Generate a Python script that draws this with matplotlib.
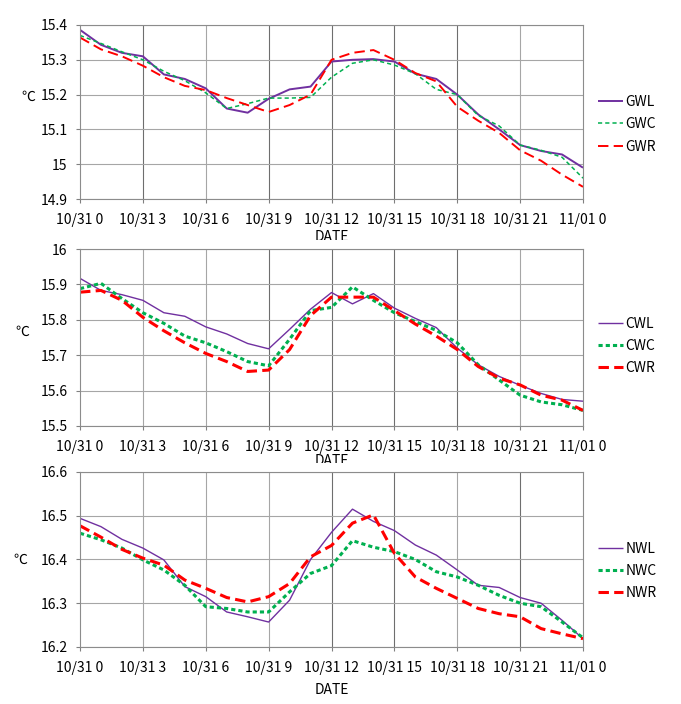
import matplotlib
matplotlib.use("Agg")
import matplotlib.pyplot as plt
from matplotlib.ticker import FuncFormatter
from matplotlib.transforms import Bbox, TransformedBbox

plt.rcParams['font.family'] = ['Noto Sans CJK KR', 'DejaVu Sans']
plt.rcParams['lines.scale_dashes'] = False

hours = list(range(25))
xtick_hours = [0, 3, 6, 9, 12, 15, 18, 21, 24]
xtick_labels = ['10/31 0', '10/31 3', '10/31 6', '10/31 9', '10/31 12',
                '10/31 15', '10/31 18', '10/31 21', '11/01 0']

# top panel (G)
gwl = [15.386, 15.343, 15.320, 15.310, 15.258, 15.245, 15.218, 15.160, 15.148, 15.188,
       15.215, 15.223, 15.295, 15.300, 15.302, 15.295, 15.260, 15.245, 15.200, 15.143,
       15.100, 15.055, 15.038, 15.028, 14.990]
gwc = [15.370, 15.347, 15.323, 15.300, 15.267, 15.240, 15.205, 15.160, 15.174, 15.190,
       15.190, 15.192, 15.250, 15.290, 15.300, 15.285, 15.260, 15.215, 15.200, 15.140,
       15.110, 15.055, 15.040, 15.020, 14.960]
gwr = [15.364, 15.330, 15.310, 15.283, 15.250, 15.225, 15.213, 15.190, 15.170, 15.150,
       15.170, 15.200, 15.300, 15.320, 15.328, 15.300, 15.262, 15.238, 15.165, 15.125,
       15.090, 15.040, 15.010, 14.970, 14.935]

# middle panel (C)
cwl = [15.917, 15.883, 15.871, 15.855, 15.820, 15.810, 15.780, 15.760, 15.733, 15.718,
       15.773, 15.830, 15.877, 15.845, 15.874, 15.833, 15.804, 15.778, 15.720, 15.673,
       15.640, 15.615, 15.592, 15.575, 15.570]
cwc = [15.888, 15.903, 15.860, 15.820, 15.790, 15.754, 15.735, 15.710, 15.682, 15.670,
       15.745, 15.826, 15.835, 15.893, 15.855, 15.820, 15.795, 15.770, 15.735, 15.673,
       15.630, 15.587, 15.568, 15.560, 15.544]
cwr = [15.878, 15.883, 15.855, 15.807, 15.769, 15.735, 15.705, 15.682, 15.654, 15.658,
       15.716, 15.812, 15.864, 15.864, 15.864, 15.826, 15.788, 15.754, 15.716, 15.668,
       15.635, 15.616, 15.587, 15.573, 15.544]

# bottom panel (N)
nwl = [16.494, 16.475, 16.446, 16.426, 16.399, 16.338, 16.315, 16.280, 16.269, 16.257,
       16.307, 16.400, 16.462, 16.515, 16.487, 16.466, 16.433, 16.410, 16.376, 16.341,
       16.336, 16.313, 16.300, 16.261, 16.219]
nwc = [16.460, 16.445, 16.426, 16.399, 16.376, 16.341, 16.292, 16.288, 16.280, 16.280,
       16.326, 16.368, 16.386, 16.443, 16.428, 16.418, 16.400, 16.372, 16.360, 16.341,
       16.318, 16.300, 16.292, 16.257, 16.221]
nwr = [16.477, 16.451, 16.423, 16.403, 16.387, 16.353, 16.334, 16.313, 16.303, 16.315,
       16.345, 16.406, 16.432, 16.483, 16.502, 16.414, 16.360, 16.334, 16.311, 16.288,
       16.276, 16.269, 16.242, 16.230, 16.219]

panels = [
    dict(rect=[0.1175, 0.7173, 0.7386, 0.2472], ylim=(14.9, 15.4),
         series=[('GWL', gwl), ('GWC', gwc), ('GWR', gwr)],
         widths=(1.4, 1.1, 1.4), dark=[3, 9, 12, 15, 18],
         unit_pos=(-0.103, 0.586), label_y=-0.178, legend_y=0.43, clip_to=240),
    dict(rect=[0.1175, 0.3949, 0.7386, 0.2514], ylim=(15.5, 16.0),
         series=[('CWL', cwl), ('CWC', cwc), ('CWR', cwr)],
         widths=(1.0, 2.2, 2.2), dark=[9, 12, 15, 18],
         unit_pos=(-0.115, 0.531), label_y=-0.158, legend_y=0.452, clip_to=463),
    dict(rect=[0.1175, 0.0810, 0.7386, 0.2486], ylim=(16.2, 16.6),
         series=[('NWL', nwl), ('NWC', nwc), ('NWR', nwr)],
         widths=(1.0, 2.2, 2.2), dark=[12, 15, 21],
         unit_pos=(-0.119, 0.497), label_y=-0.206, legend_y=0.434, clip_to=704),
]

colors = ['#7030A0', '#00B050', '#FF0000']
styles = [(0, ()), (0, (3.0, 2.2)), (0, (7.5, 3.8))]

fig = plt.figure(figsize=(6.81, 7.04), dpi=100)

for p in panels:
    ax = fig.add_axes(p['rect'])
    for (name, vals), c, ls, lw in zip(p['series'], colors, styles, p['widths']):
        ax.plot(hours, vals, color=c, linestyle=ls, linewidth=lw, label=name,
                solid_joinstyle='round', dash_joinstyle='round')

    ax.set_xlim(0, 24)
    ax.set_ylim(*p['ylim'])
    ax.set_xticks(xtick_hours)
    ax.set_xticklabels(xtick_labels)
    ax.yaxis.set_major_locator(plt.MultipleLocator(0.1))
    ax.yaxis.set_major_formatter(FuncFormatter(lambda v, pos: '{:g}'.format(round(v, 1))))
    ax.tick_params(axis='both', labelsize=10, length=3, width=0.8, color='#808080')
    ax.tick_params(axis='x', pad=7)
    ax.tick_params(axis='y', pad=6)

    ax.grid(axis='y', color='#a6a6a6', linewidth=0.8)
    for h in xtick_hours[1:-1]:
        ax.axvline(h, color='#6e6e6e' if h in p['dark'] else '#a6a6a6',
                   linewidth=0.8, zorder=0.5)
    ax.set_axisbelow(True)
    for s in ax.spines.values():
        s.set_color('#8c8c8c')
        s.set_linewidth(0.8)

    ax.text(p['unit_pos'][0], p['unit_pos'][1], '℃', transform=ax.transAxes,
            ha='center', va='center', fontsize=10)

    lbl = ax.set_xlabel('DATE', fontsize=10)
    ax.xaxis.set_label_coords(0.5, p['label_y'])
    y0 = 1 - p['clip_to'] / 704.0
    lbl.set_clip_box(TransformedBbox(Bbox([[0, y0], [1, 1]]), fig.transFigure))
    lbl.set_clip_on(True)

    ax.legend(loc='center left', bbox_to_anchor=(1.03, p['legend_y']), frameon=False,
              fontsize=10, handlelength=1.8, handletextpad=0.15, labelspacing=0.6,
              borderpad=0, borderaxespad=0)

fig.savefig('out.png', dpi=100)
